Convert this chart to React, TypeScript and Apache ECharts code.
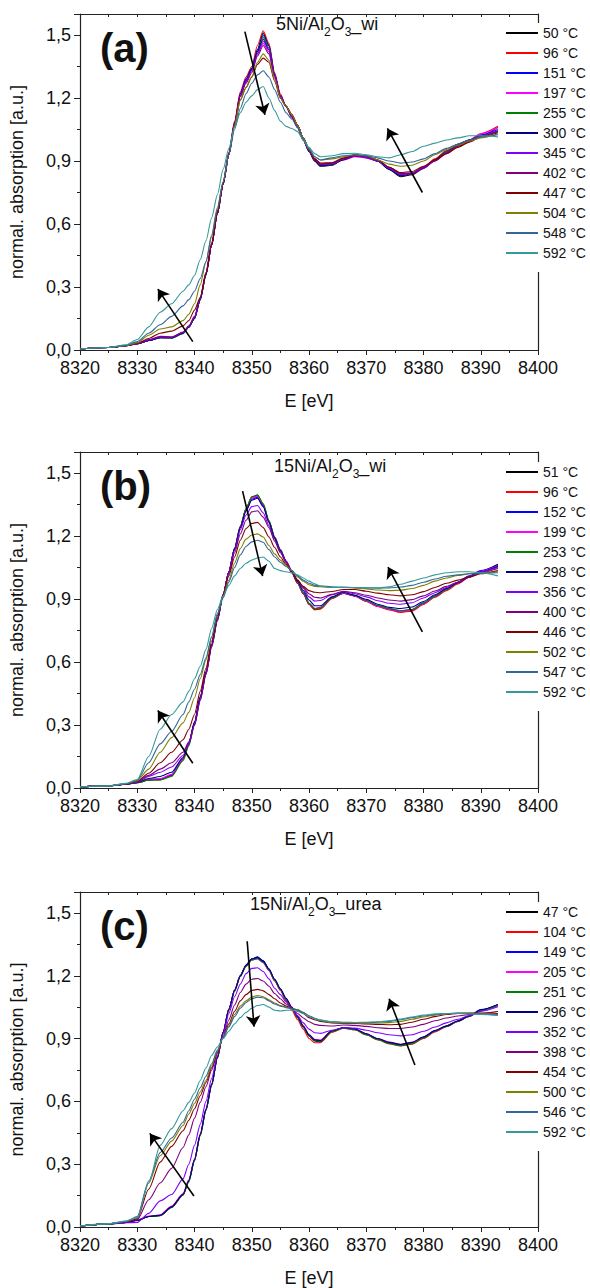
import React, { useEffect, useRef } from 'react';
import * as echarts from 'echarts';

const FONT = '"Liberation Sans", Arial, Helvetica, sans-serif';

// Energy grid [eV]
const ENERGY = [8320,8325,8328,8330,8332,8334,8336,8338,8339,8340,8341,8342,8343,8344,8345,8346,8347,8348,8349,8350,8351,8352,8353,8354,8355,8356,8357,8358,8359,8360,8361,8362,8364,8366,8368,8370,8372,8374,8376,8378,8380,8382,8384,8386,8388,8390,8393];

const X_TICKS = [8320, 8330, 8340, 8350, 8360, 8370, 8380, 8390, 8400];
const Y_TICKS = [0.0, 0.3, 0.6, 0.9, 1.2, 1.5];

const COLORS = ['#000000','#ff0000','#0000ff','#ff00ff','#008000','#000080','#8000ff','#800080','#800000','#808000','#336699','#339999'];

// ---------- panel (a) 5Ni/Al2O3_wi ----------
const A_LABELS = ['50 °C','96 °C','151 °C','197 °C','255 °C','300 °C','345 °C','402 °C','447 °C','504 °C','548 °C','592 °C'];
const A50  = [.005,.012,.02,.03,.045,.06,.058,.08,.11,.15,.24,.36,.5,.65,.79,.93,1.08,1.22,1.29,1.34,1.43,1.51,1.45,1.31,1.21,1.16,1.12,1.07,1.01,.955,.91,.88,.885,.91,.925,.92,.9,.86,.825,.835,.865,.905,.945,.975,.995,1.02,1.06];
const A96  = [.005,.012,.02,.03,.045,.06,.06,.082,.112,.155,.245,.365,.51,.66,.8,.94,1.09,1.23,1.3,1.35,1.45,1.52,1.46,1.32,1.22,1.16,1.12,1.07,1.01,.95,.9,.875,.88,.91,.93,.925,.905,.865,.83,.84,.87,.91,.95,.98,1.0,1.03,1.065];
const A151 = [.005,.012,.02,.03,.045,.058,.058,.08,.11,.15,.24,.36,.5,.65,.79,.93,1.08,1.22,1.29,1.34,1.43,1.5,1.45,1.31,1.21,1.16,1.12,1.07,1.01,.955,.905,.875,.88,.91,.925,.92,.9,.865,.83,.84,.87,.905,.945,.98,1.0,1.025,1.05];
const A197 = [.005,.012,.02,.03,.046,.06,.06,.08,.11,.152,.24,.36,.5,.65,.79,.93,1.07,1.21,1.28,1.33,1.41,1.46,1.42,1.3,1.21,1.16,1.12,1.07,1.01,.955,.91,.885,.89,.905,.92,.915,.9,.87,.84,.845,.87,.905,.94,.975,1.0,1.03,1.06];
const A255 = [.005,.012,.02,.03,.045,.058,.056,.078,.108,.15,.238,.355,.5,.65,.79,.93,1.07,1.21,1.28,1.34,1.42,1.49,1.44,1.31,1.21,1.16,1.11,1.06,1.0,.945,.9,.875,.88,.91,.925,.92,.9,.86,.83,.84,.87,.905,.945,.98,1.0,1.02,1.04];
const A300 = [.005,.012,.02,.03,.045,.058,.058,.08,.11,.152,.24,.36,.5,.65,.79,.93,1.08,1.21,1.28,1.34,1.42,1.48,1.43,1.31,1.21,1.16,1.11,1.06,1.0,.945,.9,.878,.882,.905,.925,.92,.9,.86,.83,.84,.87,.905,.94,.975,1.0,1.02,1.04];
const A345 = [.005,.012,.02,.03,.048,.062,.06,.082,.112,.155,.245,.365,.5,.65,.79,.93,1.08,1.21,1.28,1.33,1.41,1.47,1.43,1.31,1.21,1.16,1.11,1.06,1.0,.95,.905,.882,.886,.91,.925,.915,.9,.865,.835,.84,.87,.9,.94,.97,.995,1.02,1.045];
const A402 = [.005,.012,.02,.03,.05,.065,.062,.085,.115,.16,.25,.37,.51,.66,.8,.94,1.08,1.21,1.27,1.32,1.4,1.45,1.41,1.3,1.2,1.16,1.11,1.06,1.0,.95,.905,.885,.89,.91,.925,.92,.905,.87,.84,.84,.865,.9,.935,.97,.995,1.02,1.04];
const A447 = [.005,.012,.02,.032,.055,.08,.09,.115,.14,.19,.25,.36,.5,.65,.79,.93,1.07,1.19,1.25,1.3,1.36,1.39,1.37,1.28,1.2,1.16,1.12,1.07,1.01,.955,.91,.89,.892,.915,.93,.925,.905,.87,.845,.85,.875,.905,.935,.965,.99,1.015,1.035];
const A504 = [.005,.012,.021,.035,.07,.1,.11,.14,.17,.22,.31,.42,.55,.68,.8,.93,1.07,1.19,1.25,1.3,1.37,1.41,1.38,1.29,1.2,1.16,1.12,1.07,1.01,.96,.92,.905,.91,.92,.93,.925,.905,.885,.875,.88,.9,.93,.955,.975,.995,1.01,1.03];
const A548 = [.005,.012,.022,.04,.08,.12,.16,.21,.24,.28,.34,.42,.54,.67,.8,.93,1.05,1.15,1.22,1.27,1.31,1.33,1.3,1.24,1.18,1.13,1.1,1.06,1.0,.955,.92,.905,.915,.925,.93,.925,.915,.9,.89,.895,.91,.935,.96,.98,1.0,1.015,1.025];
const A592 = [.005,.012,.025,.05,.11,.18,.22,.28,.31,.355,.43,.52,.63,.74,.86,.96,1.06,1.13,1.18,1.21,1.24,1.255,1.2,1.14,1.09,1.065,1.055,1.04,1.0,.965,.935,.92,.925,.935,.937,.93,.92,.915,.93,.945,.97,.985,1.0,1.01,1.02,1.02,1.015];
const A_SERIES = [A50, A96, A151, A197, A255, A300, A345, A402, A447, A504, A548, A592];
const A_ARROWS = [
  [[8339.7, 0.04], [8333.6, 0.29]],
  [[8348.8, 1.516], [8352.3, 1.12]],
  [[8379.8, 0.75], [8373.7, 1.055]],
];

// ---------- panel (b) 15Ni/Al2O3_wi ----------
const B_LABELS = ['51 °C','96 °C','152 °C','199 °C','253 °C','298 °C','356 °C','400 °C','446 °C','502 °C','547 °C','592 °C'];
const B51  = [.005,.01,.018,.025,.038,.04,.06,.14,.21,.31,.43,.55,.68,.8,.92,1.03,1.14,1.245,1.33,1.385,1.395,1.35,1.27,1.19,1.13,1.075,1.025,.975,.925,.875,.85,.855,.905,.928,.915,.89,.866,.85,.838,.845,.878,.912,.945,.977,1.008,1.033,1.065];
const B96  = [.005,.01,.018,.025,.038,.04,.058,.135,.205,.305,.425,.545,.675,.8,.92,1.03,1.14,1.245,1.33,1.385,1.39,1.345,1.265,1.19,1.13,1.075,1.025,.975,.925,.875,.848,.852,.902,.926,.914,.888,.864,.848,.836,.842,.874,.908,.94,.972,1.004,1.03,1.06];
const B152 = [.005,.01,.018,.026,.04,.042,.062,.14,.21,.31,.43,.55,.68,.8,.92,1.03,1.14,1.24,1.32,1.375,1.385,1.345,1.27,1.195,1.135,1.08,1.03,.98,.93,.88,.855,.86,.905,.928,.915,.892,.868,.852,.842,.85,.882,.915,.948,.98,1.01,1.035,1.062];
const B199 = [.005,.01,.018,.026,.042,.045,.065,.14,.21,.31,.43,.55,.68,.8,.92,1.03,1.14,1.24,1.325,1.38,1.39,1.35,1.27,1.195,1.135,1.08,1.03,.98,.93,.88,.855,.858,.905,.928,.915,.89,.866,.85,.84,.847,.878,.912,.944,.976,1.006,1.032,1.058];
const B253 = [.005,.01,.018,.025,.038,.038,.055,.13,.2,.3,.42,.54,.67,.795,.92,1.03,1.14,1.245,1.33,1.385,1.395,1.355,1.275,1.195,1.135,1.08,1.03,.98,.93,.88,.853,.857,.905,.93,.918,.893,.87,.855,.845,.85,.88,.912,.944,.976,1.006,1.03,1.055];
const B298 = [.005,.01,.018,.027,.045,.055,.075,.145,.215,.315,.435,.555,.685,.805,.92,1.03,1.14,1.24,1.32,1.37,1.38,1.34,1.265,1.19,1.13,1.08,1.03,.985,.94,.895,.868,.868,.91,.932,.918,.898,.875,.86,.855,.862,.888,.92,.95,.978,1.005,1.03,1.055];
const B356 = [.005,.01,.018,.028,.055,.075,.1,.155,.21,.3,.415,.54,.675,.805,.92,1.03,1.13,1.23,1.3,1.34,1.345,1.31,1.25,1.18,1.125,1.08,1.035,.99,.95,.91,.89,.893,.92,.935,.925,.91,.892,.88,.875,.882,.905,.93,.955,.98,1.005,1.03,1.05];
const B400 = [.005,.01,.018,.03,.06,.09,.12,.17,.22,.3,.42,.545,.68,.81,.92,1.02,1.12,1.21,1.275,1.315,1.32,1.29,1.24,1.175,1.12,1.075,1.035,.99,.955,.925,.908,.905,.922,.937,.93,.918,.905,.895,.89,.897,.915,.938,.96,.98,1.005,1.025,1.045];
const B446 = [.005,.01,.019,.032,.07,.12,.17,.23,.28,.35,.46,.57,.7,.82,.92,1.01,1.1,1.18,1.235,1.26,1.265,1.24,1.195,1.145,1.1,1.065,1.03,.99,.96,.94,.932,.93,.936,.945,.945,.937,.928,.92,.915,.92,.935,.955,.975,.99,1.005,1.02,1.035];
const B502 = [.005,.01,.02,.035,.09,.17,.24,.31,.36,.43,.52,.61,.72,.83,.91,.99,1.07,1.14,1.185,1.205,1.21,1.195,1.155,1.115,1.085,1.06,1.035,1.005,.985,.968,.96,.958,.955,.955,.952,.948,.943,.94,.942,.95,.965,.985,1.0,1.012,1.02,1.025,1.03];
const B547 = [.005,.01,.02,.037,.12,.21,.27,.35,.41,.47,.54,.62,.72,.83,.905,.98,1.05,1.11,1.15,1.172,1.18,1.17,1.135,1.1,1.075,1.055,1.035,1.01,.99,.975,.965,.962,.958,.957,.955,.953,.952,.953,.957,.965,.98,.995,1.008,1.015,1.02,1.022,1.025];
const B592 = [.005,.01,.022,.04,.15,.28,.35,.41,.46,.52,.58,.66,.76,.85,.915,.965,1.01,1.045,1.07,1.085,1.095,1.1,1.08,1.045,1.035,1.03,1.025,1.015,1.0,.985,.972,.962,.955,.955,.955,.953,.953,.958,.97,.985,1.0,1.015,1.025,1.03,1.03,1.025,1.01];
const B_SERIES = [B51, B96, B152, B199, B253, B298, B356, B400, B446, B502, B547, B592];
const B_ARROWS = [
  [[8339.7, 0.118], [8333.6, 0.369]],
  [[8348.4, 1.414], [8351.9, 1.009]],
  [[8379.8, 0.743], [8373.8, 1.052]],
];

// ---------- panel (c) 15Ni/Al2O3_urea ----------
const C_LABELS = ['47 °C','104 °C','149 °C','205 °C','251 °C','296 °C','352 °C','398 °C','454 °C','500 °C','546 °C','592 °C'];
const C47  = [.005,.015,.022,.032,.05,.055,.095,.155,.22,.32,.44,.56,.68,.81,.93,1.04,1.13,1.2,1.25,1.28,1.288,1.27,1.23,1.18,1.135,1.087,1.045,1.0,.955,.913,.889,.884,.935,.952,.944,.92,.897,.878,.868,.878,.905,.937,.96,.984,1.008,1.036,1.06];
const C104 = [.005,.015,.022,.032,.05,.055,.095,.153,.218,.318,.438,.558,.68,.81,.93,1.04,1.13,1.2,1.25,1.28,1.285,1.265,1.225,1.175,1.13,1.08,1.035,.99,.945,.9,.88,.88,.93,.95,.942,.918,.894,.875,.865,.873,.9,.932,.957,.982,1.006,1.035,1.06];
const C149 = [.005,.015,.022,.032,.05,.055,.095,.155,.22,.32,.44,.56,.68,.81,.93,1.04,1.13,1.2,1.25,1.28,1.29,1.272,1.232,1.182,1.137,1.09,1.047,1.002,.958,.916,.892,.888,.936,.952,.945,.922,.899,.88,.87,.88,.906,.937,.96,.984,1.008,1.036,1.062];
const C205 = [.005,.015,.022,.033,.052,.058,.1,.16,.225,.325,.445,.565,.685,.81,.93,1.04,1.13,1.2,1.245,1.275,1.28,1.262,1.225,1.178,1.133,1.087,1.045,1.002,.96,.92,.897,.893,.937,.952,.945,.923,.9,.883,.873,.882,.906,.936,.958,.982,1.006,1.034,1.058];
const C251 = [.005,.014,.021,.031,.05,.054,.093,.152,.215,.315,.435,.555,.675,.805,.925,1.035,1.125,1.195,1.245,1.275,1.283,1.265,1.228,1.178,1.133,1.085,1.043,1.0,.955,.914,.89,.886,.933,.95,.942,.918,.895,.876,.866,.876,.903,.935,.958,.982,1.006,1.034,1.058];
const C296 = [.005,.015,.022,.032,.05,.056,.096,.156,.222,.322,.442,.562,.682,.81,.93,1.04,1.13,1.2,1.25,1.28,1.287,1.27,1.232,1.183,1.138,1.092,1.05,1.005,.96,.918,.894,.89,.937,.953,.946,.923,.9,.882,.872,.882,.908,.938,.96,.984,1.008,1.038,1.063];
const C352 = [.005,.014,.02,.022,.065,.125,.155,.23,.3,.39,.49,.6,.71,.82,.92,1.02,1.1,1.16,1.21,1.235,1.238,1.22,1.185,1.14,1.11,1.075,1.045,1.01,.975,.945,.928,.925,.94,.952,.95,.94,.928,.918,.913,.918,.935,.955,.975,.992,1.01,1.03,1.052];
const C398 = [.005,.015,.024,.035,.13,.21,.28,.38,.44,.52,.595,.67,.75,.83,.91,.99,1.06,1.12,1.16,1.183,1.187,1.175,1.15,1.115,1.09,1.065,1.045,1.02,.998,.98,.968,.963,.96,.965,.963,.958,.952,.948,.948,.955,.968,.985,.998,1.008,1.015,1.02,1.03];
const C454 = [.005,.015,.025,.04,.18,.31,.385,.46,.51,.565,.627,.69,.76,.835,.905,.97,1.03,1.08,1.11,1.13,1.135,1.128,1.11,1.09,1.07,1.055,1.045,1.035,1.02,1.0,.99,.982,.975,.972,.972,.97,.968,.966,.968,.978,.992,1.005,1.015,1.02,1.022,1.022,1.02];
const C500 = [.005,.015,.026,.045,.21,.34,.41,.485,.54,.59,.645,.7,.77,.84,.905,.96,1.015,1.055,1.08,1.098,1.106,1.1,1.085,1.07,1.058,1.05,1.045,1.038,1.025,1.008,.995,.985,.977,.975,.975,.974,.974,.976,.982,.992,1.003,1.012,1.018,1.022,1.022,1.02,1.015];
const C546 = [.005,.015,.027,.05,.22,.355,.425,.5,.555,.61,.665,.72,.78,.845,.905,.955,1.005,1.045,1.072,1.09,1.098,1.095,1.08,1.065,1.055,1.048,1.043,1.036,1.024,1.008,.997,.988,.98,.978,.977,.977,.978,.982,.99,1.0,1.008,1.015,1.02,1.022,1.02,1.018,1.012];
const C592 = [.005,.016,.028,.045,.21,.39,.47,.555,.595,.64,.7,.76,.82,.86,.9,.935,.97,1.0,1.025,1.045,1.058,1.063,1.05,1.035,1.032,1.035,1.035,1.03,1.02,1.005,.995,.988,.98,.977,.977,.978,.98,.985,.993,1.003,1.012,1.018,1.02,1.02,1.018,1.015,1.01];
const C_SERIES = [C47, C104, C149, C205, C251, C296, C352, C398, C454, C500, C546, C592];
const C_ARROWS = [
  [[8339.9, 0.148], [8332.2, 0.447]],
  [[8349.2, 1.365], [8350.4, 0.957]],
  [[8378.5, 0.774], [8374.0, 1.09]],
];

const PANELS = [
  { letter: '(a)', sample: ['5Ni/Al', '2', 'O', '3', '_wi'], labels: A_LABELS, series: A_SERIES, arrows: A_ARROWS,
    top: 14, legendTop: 23, titleLeft: 276, titleTop: 15, letterTop: 28 },
  { letter: '(b)', sample: ['15Ni/Al', '2', 'O', '3', '_wi'], labels: B_LABELS, series: B_SERIES, arrows: B_ARROWS,
    top: 452, legendTop: 462, titleLeft: 274, titleTop: 457, letterTop: 466 },
  { letter: '(c)', sample: ['15Ni/Al', '2', 'O', '3', '_urea'], labels: C_LABELS, series: C_SERIES, arrows: C_ARROWS,
    top: 892, legendTop: 902, titleLeft: 250, titleTop: 895, letterTop: 906 },
];

const GRID_LEFT = 80;
const GRID_WIDTH = 458;
const GRID_HEIGHT = 336;
const AXIS_COLOR = '#222';
const LEGEND_LINE = 'path://M0,0 L32,0 L32,2 L0,2 Z';

function buildOption() {
  const grid: any[] = [];
  const xAxis: any[] = [];
  const yAxis: any[] = [];
  const series: any[] = [];
  const legend: any[] = [];
  const title: any[] = [];

  PANELS.forEach((p, pi) => {
    grid.push({ left: GRID_LEFT, top: p.top, width: GRID_WIDTH, height: GRID_HEIGHT, containLabel: false });
    xAxis.push({
      type: 'value', gridIndex: pi, position: 'bottom',
      min: X_TICKS[0], max: X_TICKS[X_TICKS.length - 1], interval: X_TICKS[1] - X_TICKS[0],
      axisLine: { show: true, onZero: false, lineStyle: { color: AXIS_COLOR, width: 1.2 } },
      axisTick: { show: true, inside: false, length: 5, lineStyle: { color: AXIS_COLOR, width: 1 } },
      minorTick: { show: true, splitNumber: 2, length: 3, lineStyle: { color: AXIS_COLOR, width: 1 } },
      splitLine: { show: false },
      axisLabel: { fontSize: 18, color: '#111', margin: 9, fontFamily: FONT, formatter: (v: number) => String(v) },
      name: 'E [eV]', nameLocation: 'middle', nameGap: 42,
      nameTextStyle: { fontSize: 18, color: '#111', fontFamily: FONT },
    });
    xAxis.push({
      type: 'value', gridIndex: pi, position: 'top',
      min: X_TICKS[0], max: X_TICKS[X_TICKS.length - 1], interval: 5,
      axisLine: { show: true, onZero: false, lineStyle: { color: AXIS_COLOR, width: 1.2 } },
      axisTick: { show: true, inside: true, length: 3, lineStyle: { color: AXIS_COLOR, width: 1 } },
      axisLabel: { show: false }, splitLine: { show: false },
    });
    yAxis.push({
      type: 'value', gridIndex: pi, position: 'left',
      min: 0, max: 1.6, interval: Y_TICKS[1] - Y_TICKS[0],
      axisLine: { show: true, onZero: false, lineStyle: { color: AXIS_COLOR, width: 1.2 } },
      axisTick: { show: true, inside: false, length: 6, lineStyle: { color: AXIS_COLOR, width: 1 } },
      minorTick: { show: true, splitNumber: 2, length: 3, lineStyle: { color: AXIS_COLOR, width: 1 } },
      splitLine: { show: false },
      axisLabel: {
        fontSize: 18, color: '#111', margin: 9, fontFamily: FONT,
        formatter: (v: number) => {
          const hit = Y_TICKS.find((t) => Math.abs(t - v) < 1e-6);
          return hit === undefined ? '' : hit.toFixed(1).replace('.', ',');
        },
      },
      name: 'normal. absorption [a.u.]', nameLocation: 'middle', nameGap: 54,
      nameTextStyle: { fontSize: 18, color: '#111', fontFamily: FONT },
    });
    yAxis.push({
      type: 'value', gridIndex: pi, position: 'right', min: 0, max: 1.6,
      axisLine: { show: true, onZero: false, lineStyle: { color: AXIS_COLOR, width: 1.2 } },
      axisTick: { show: false }, axisLabel: { show: false }, splitLine: { show: false },
    });

    const xi = pi * 2;
    const yi = pi * 2;
    p.series.forEach((vals, si) => {
      series.push({
        type: 'line', name: p.labels[si], xAxisIndex: xi, yAxisIndex: yi,
        data: ENERGY.map((e, i) => [e, vals[i]]),
        showSymbol: false, symbol: 'none', smooth: 0.25, smoothMonotone: 'x',
        lineStyle: { width: 1.1, color: COLORS[si] }, itemStyle: { color: COLORS[si] },
        emphasis: { disabled: true }, z: 2,
      });
    });
    series.push({
      type: 'lines', coordinateSystem: 'cartesian2d', xAxisIndex: xi, yAxisIndex: yi,
      symbol: ['none', 'arrow'], symbolSize: [0, 11],
      lineStyle: { color: '#000', width: 1.6, opacity: 1 },
      data: p.arrows.map((c) => ({ coords: c })), z: 6, silent: true,
    });

    legend.push({
      show: true, orient: 'vertical', left: 503, top: p.legendTop,
      itemWidth: 32, itemHeight: 14, itemGap: 6, padding: [3, 4, 12, 3],
      backgroundColor: '#ffffff', selectedMode: false,
      icon: LEGEND_LINE, symbolKeepAspect: true,
      data: p.labels,
      textStyle: { fontSize: 14, color: '#111', fontFamily: FONT },
    });

    title.push({
      left: p.titleLeft, top: p.titleTop, padding: 0,
      text: `{n|${p.sample[0]}}{s|${p.sample[1]}}{n|${p.sample[2]}}{s|${p.sample[3]}}{n|${p.sample[4]}}`,
      textStyle: {
        fontWeight: 'normal', fontSize: 18, color: '#111', fontFamily: FONT,
        rich: {
          n: { fontSize: 18, fontWeight: 'normal', color: '#111', fontFamily: FONT, verticalAlign: 'bottom', padding: [0, 0, 5, 0] },
          s: { fontSize: 12, fontWeight: 'normal', color: '#111', fontFamily: FONT, verticalAlign: 'bottom' },
        },
      },
    });
    title.push({
      left: 100, top: p.letterTop, padding: 0, text: p.letter,
      textStyle: { fontSize: 40, fontWeight: 'bold', color: '#111', fontFamily: FONT },
    });
  });

  return { animation: false, backgroundColor: '#ffffff', grid, xAxis, yAxis, series, legend, title };
}

export default function App() {
  const ref = useRef<HTMLDivElement>(null);
  useEffect(() => {
    document.body.style.margin = '0';
    if (!ref.current) return;
    const chart = echarts.init(ref.current, null, { renderer: 'svg' });
    chart.setOption(buildOption() as any);
    return () => chart.dispose();
  }, []);
  return <div ref={ref} style={{ width: 590, height: 1288 }} />;
}
